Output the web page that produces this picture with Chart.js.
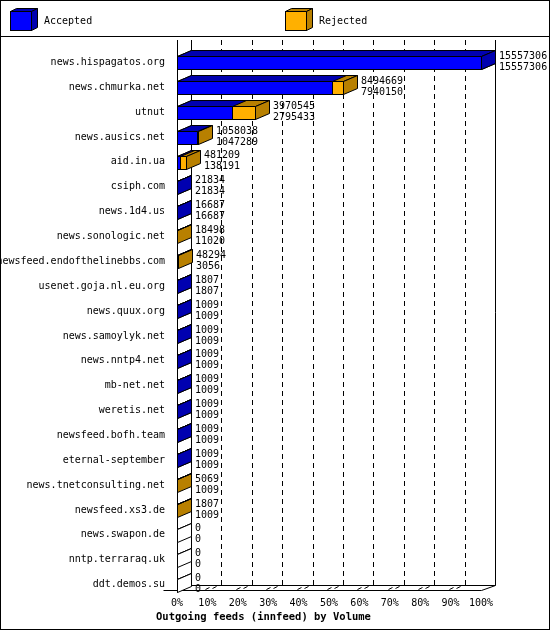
<!DOCTYPE html>
<html><head><meta charset="utf-8">
<script src="https://cdn.jsdelivr.net/npm/chart.js@4"></script>
<style>body{margin:0;background:#fff}canvas{display:block}</style>
</head><body>
<canvas id="c" width="550" height="630"></canvas>
<script>
const hosts = ['news.hispagatos.org','news.chmurka.net','utnut','news.ausics.net','aid.in.ua','csiph.com','news.1d4.us','news.sonologic.net','newsfeed.endofthelinebbs.com','usenet.goja.nl.eu.org','news.quux.org','news.samoylyk.net','news.nntp4.net','mb-net.net','weretis.net','newsfeed.bofh.team','eternal-september','news.tnetconsulting.net','newsfeed.xs3.de','news.swapon.de','nntp.terraraq.uk','ddt.demos.su'];
const offered = [15557306,8494669,3970545,1058038,481209,21834,16687,18498,48294,1807,1009,1009,1009,1009,1009,1009,1009,5069,1807,0,0,0];
const accepted = [15557306,7940150,2795433,1047289,138191,21834,16687,11020,3056,1807,1009,1009,1009,1009,1009,1009,1009,1009,1009,0,0,0];
const pctTicks = ['0%','10%','20%','30%','40%','50%','60%','70%','80%','90%','100%'];
const maxVal = 15557306;

const DX = 14, DY = 6;
const FONT = '10px "DejaVu Sans Mono"';

function box(ctx, x0, x1, y0, y1, front, top, side, drawSide) {
  ctx.lineWidth = 1;
  ctx.strokeStyle = '#000';
  ctx.fillStyle = front;
  ctx.fillRect(x0, y0, x1 - x0, y1 - y0);
  ctx.strokeRect(x0 + .5, y0 + .5, x1 - x0, y1 - y0);
  ctx.beginPath();
  ctx.moveTo(x0 + .5, y0 + .5); ctx.lineTo(x0 + DX + .5, y0 - DY + .5);
  ctx.lineTo(x1 + DX + .5, y0 - DY + .5); ctx.lineTo(x1 + .5, y0 + .5); ctx.closePath();
  ctx.fillStyle = top; ctx.fill(); ctx.stroke();
  if (drawSide) {
    ctx.beginPath();
    ctx.moveTo(x1 + .5, y0 + .5); ctx.lineTo(x1 + DX + .5, y0 - DY + .5);
    ctx.lineTo(x1 + DX + .5, y1 - DY + .5); ctx.lineTo(x1 + .5, y1 + .5); ctx.closePath();
    ctx.fillStyle = side; ctx.fill(); ctx.stroke();
  }
}

const draw3d = {
  id: 'draw3d',
  beforeDatasetsDraw(chart) {
    const ctx = chart.ctx, a = chart.chartArea, xs = chart.scales.x;
    ctx.save();
    ctx.strokeStyle = '#000'; ctx.lineWidth = 1;
    const floorY = 590.5, top = 40;
    ctx.setLineDash([5, 4]);
    for (let i = 1; i < pctTicks.length - 1; i++) {
      const px = Math.round(xs.getPixelForValue(maxVal * i / 10)) + 14 + .5;
      ctx.beginPath(); ctx.moveTo(px, top); ctx.lineTo(px, floorY - 5); ctx.stroke();
    }
    ctx.setLineDash([]);
    const L = Math.round(a.left) + .5, R = Math.round(a.right) + .5;
    ctx.beginPath(); ctx.moveTo(L + 14, top); ctx.lineTo(L + 14, floorY - 5); ctx.stroke();
    ctx.beginPath(); ctx.moveTo(R + 14, top); ctx.lineTo(R + 14, floorY - 5); ctx.stroke();
    ctx.beginPath(); ctx.moveTo(L, top); ctx.lineTo(L, floorY); ctx.stroke();
    ctx.beginPath();
    ctx.moveTo(L - 14, floorY); ctx.lineTo(R, floorY); ctx.lineTo(R + 14, floorY - 5);
    ctx.lineTo(L + 14, floorY - 5); ctx.lineTo(L, floorY); ctx.stroke();
    for (let i = 1; i < pctTicks.length - 1; i++) {
      const px = Math.round(xs.getPixelForValue(maxVal * i / 10)) + .5;
      ctx.beginPath(); ctx.moveTo(px - 2, floorY - 1); ctx.lineTo(px + 2, floorY - 3); ctx.stroke();
      ctx.beginPath(); ctx.moveTo(px + 5, floorY - 2); ctx.lineTo(px + 9, floorY - 4); ctx.stroke();
    }
    ctx.fillStyle = '#000'; ctx.font = FONT; ctx.textAlign = 'center'; ctx.textBaseline = 'middle';
    pctTicks.forEach((t, i) => {
      ctx.fillText(t, xs.getPixelForValue(maxVal * i / 10), 603);
    });
    ctx.restore();
  },
  afterDatasetsDraw(chart) {
    const ctx = chart.ctx, xs = chart.scales.x;
    const mo = chart.getDatasetMeta(1).data, ma = chart.getDatasetMeta(0).data;
    ctx.save();
    mo.forEach((el, i) => {
      const y0 = Math.round(el.y - 6), y1 = y0 + 13;
      const x0 = Math.round(xs.getPixelForValue(0));
      const xo = Math.round(el.x), xa = Math.round(ma[i].x);
      if (offered[i] === 0) {
        box(ctx, x0, x0, y0, y1, '#fff', '#fff', '#fff', true);
      } else {
        box(ctx, x0, xo, y0, y1, '#ffb000', '#b88000', '#b88000', true);
        box(ctx, x0, xa, y0, y1, '#0000ff', '#0000b0', '#0000b0', accepted[i] === offered[i]);
      }
      ctx.fillStyle = '#000'; ctx.font = FONT; ctx.textAlign = 'left'; ctx.textBaseline = 'middle';
      ctx.fillText(String(offered[i]), xo + DX + 4, el.y - 6);
      ctx.fillText(String(accepted[i]), xo + DX + 4, el.y + 5);
    });
    ctx.restore();
  },
  afterDraw(chart) {
    const ctx = chart.ctx;
    ctx.save();
    ctx.strokeStyle = '#000'; ctx.lineWidth = 1;
    ctx.strokeRect(0.5, 0.5, 549, 629);
    ctx.beginPath(); ctx.moveTo(0, 36.5); ctx.lineTo(550, 36.5); ctx.stroke();
    const leg = [['Accepted', 10, '#0000ff', '#0000b0'], ['Rejected', 285, '#ffb000', '#b88000']];
    leg.forEach(([t, x, f, s]) => {
      ctx.fillStyle = f; ctx.fillRect(x, 11, 21, 19); ctx.strokeRect(x + .5, 11.5, 21, 19);
      ctx.beginPath(); ctx.moveTo(x + .5, 11.5); ctx.lineTo(x + 6.5, 8.5); ctx.lineTo(x + 27.5, 8.5); ctx.lineTo(x + 21.5, 11.5); ctx.closePath();
      ctx.fillStyle = s; ctx.fill(); ctx.stroke();
      ctx.beginPath(); ctx.moveTo(x + 21.5, 11.5); ctx.lineTo(x + 27.5, 8.5); ctx.lineTo(x + 27.5, 27.5); ctx.lineTo(x + 21.5, 30.5); ctx.closePath();
      ctx.fill(); ctx.stroke();
      ctx.fillStyle = '#000'; ctx.font = FONT; ctx.textAlign = 'left'; ctx.textBaseline = 'middle';
      ctx.fillText(t, x + 34, 21);
    });
    ctx.font = 'bold 10.5px "DejaVu Sans Mono"';
    ctx.fillText('Outgoing feeds (innfeed) by Volume', 156, 617);
    ctx.restore();
  }
};

new Chart(document.getElementById('c'), {
  type: 'bar',
  data: {
    labels: hosts,
    datasets: [
      { label: 'Accepted', data: accepted, backgroundColor: 'transparent', grouped: false, barThickness: 13 },
      { label: 'Offered', data: offered, backgroundColor: 'transparent', grouped: false, barThickness: 13 }
    ]
  },
  options: {
    indexAxis: 'y',
    responsive: false,
    animation: false,
    devicePixelRatio: 1,
    layout: { padding: { top: 50, right: 69, bottom: 33, left: 0 } },
    plugins: { legend: { display: false }, tooltip: { enabled: false } },
    scales: {
      x: { min: 0, max: maxVal, display: false },
      y: {
        grid: { display: false },
        border: { display: false },
        ticks: { color: '#000', font: { family: 'DejaVu Sans Mono', size: 10 }, padding: 4 },
        afterFit(s) { s.width = 177; }
      }
    }
  },
  plugins: [draw3d]
});
</script>
</body></html>
